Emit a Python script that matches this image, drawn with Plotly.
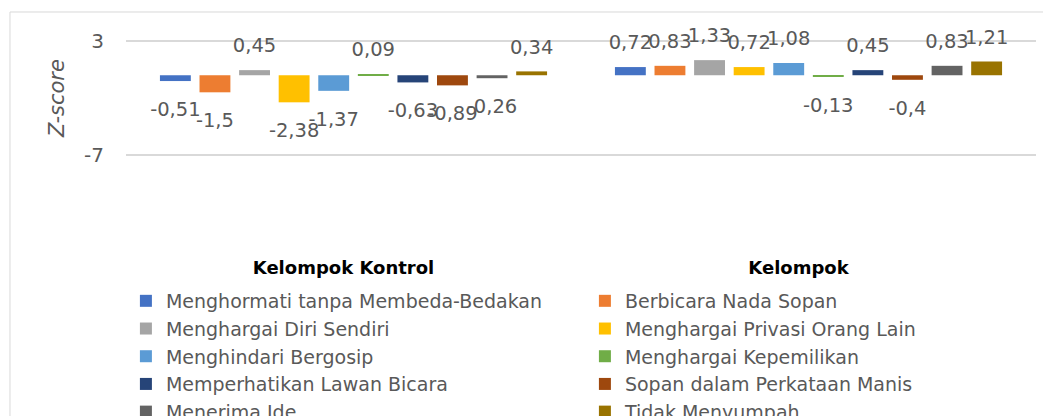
import plotly.graph_objects as go

categories = ["Kelompok Kontrol", "Kelompok"]
series_names = [
    "Menghormati tanpa Membeda-Bedakan",
    "Berbicara Nada Sopan",
    "Menghargai Diri Sendiri",
    "Menghargai Privasi Orang Lain",
    "Menghindari Bergosip",
    "Menghargai Kepemilikan",
    "Memperhatikan Lawan Bicara",
    "Sopan dalam Perkataan Manis",
    "Menerima Ide",
    "Tidak Menyumpah",
]
kontrol = [-0.51, -1.5, 0.45, -2.38, -1.37, 0.09, -0.63, -0.89, -0.26, 0.34]
eksperimen = [0.72, 0.83, 1.33, 0.72, 1.08, -0.13, 0.45, -0.4, 0.83, 1.21]
colors = ["#4472C4", "#ED7D31", "#A5A5A5", "#FFC000", "#5B9BD5",
          "#70AD47", "#264478", "#9E480E", "#636363", "#997300"]
y_ticks = [3, -7]

FONT = "DejaVu Sans"
GREY = "#595959"


def fmt(v):
    return f"{v:g}".replace(".", ",")


fig = go.Figure()
for i, name in enumerate(series_names):
    vals = [kontrol[i], eksperimen[i]]
    fig.add_trace(go.Bar(
        x=categories, y=vals, name=name,
        marker=dict(color=colors[i], line=dict(width=0)),
        offsetgroup=str(i), hoverinfo="skip",
    ))
for i, name in enumerate(series_names):
    vals = [kontrol[i], eksperimen[i]]
    fig.add_trace(go.Scatter(
        x=categories, y=vals, mode="markers+text",
        text=[fmt(v) for v in vals],
        textposition=["top center" if v >= 0 else "bottom center" for v in vals],
        textfont=dict(family=FONT, size=19.5, color=GREY),
        marker=dict(size=[19 if v >= 0 else 31 for v in vals],
                    color="rgba(0,0,0,0)", opacity=0),
        offsetgroup=str(i), showlegend=False, hoverinfo="skip",
        cliponaxis=False,
    ))

fig.update_layout(
    width=1043, height=408,
    margin=dict(l=118, r=15, t=32, b=260, autoexpand=False),
    paper_bgcolor="white", plot_bgcolor="white",
    barmode="group", bargap=0.13, bargroupgap=0.22,
    scattermode="group", scattergap=0.13,
    font=dict(family=FONT, color=GREY),
    showlegend=True,
    legend=dict(
        orientation="h", x=-0.0001, xanchor="left", y=-1.086, yanchor="top",
        font=dict(family=FONT, size=19, color=GREY),
        entrywidth=414, entrywidthmode="pixels",
        bgcolor="rgba(0,0,0,0)",
    ),
    xaxis=dict(
        type="category", showgrid=False, zeroline=False, showline=False,
        tickfont=dict(family=FONT, size=18, color="#000000", weight="bold"),
        ticks="", ticklabelstandoff=99, ticklabelshift=-10,
    ),
    yaxis=dict(
        range=[-7.1, 3.1], tickvals=y_ticks,
        ticktext=[str(t) for t in y_ticks],
        showgrid=True, gridcolor="#D9D9D9", gridwidth=1.5,
        zeroline=False, showline=False,
        ticks="outside", ticklen=17, tickcolor="rgba(0,0,0,0)",
        tickfont=dict(family=FONT, size=20, color=GREY),
        title=dict(text="Z-score", font=dict(family=FONT, size=21, color=GREY, style="italic"),
                   standoff=13),
    ),
    shapes=[dict(type="rect", xref="paper", yref="paper",
                 x0=-0.1275, x1=1.3, y0=1.2414, y1=-3,
                 line=dict(color="#D9D9D9", width=1), layer="below")],
)

fig.write_html("out.html")
